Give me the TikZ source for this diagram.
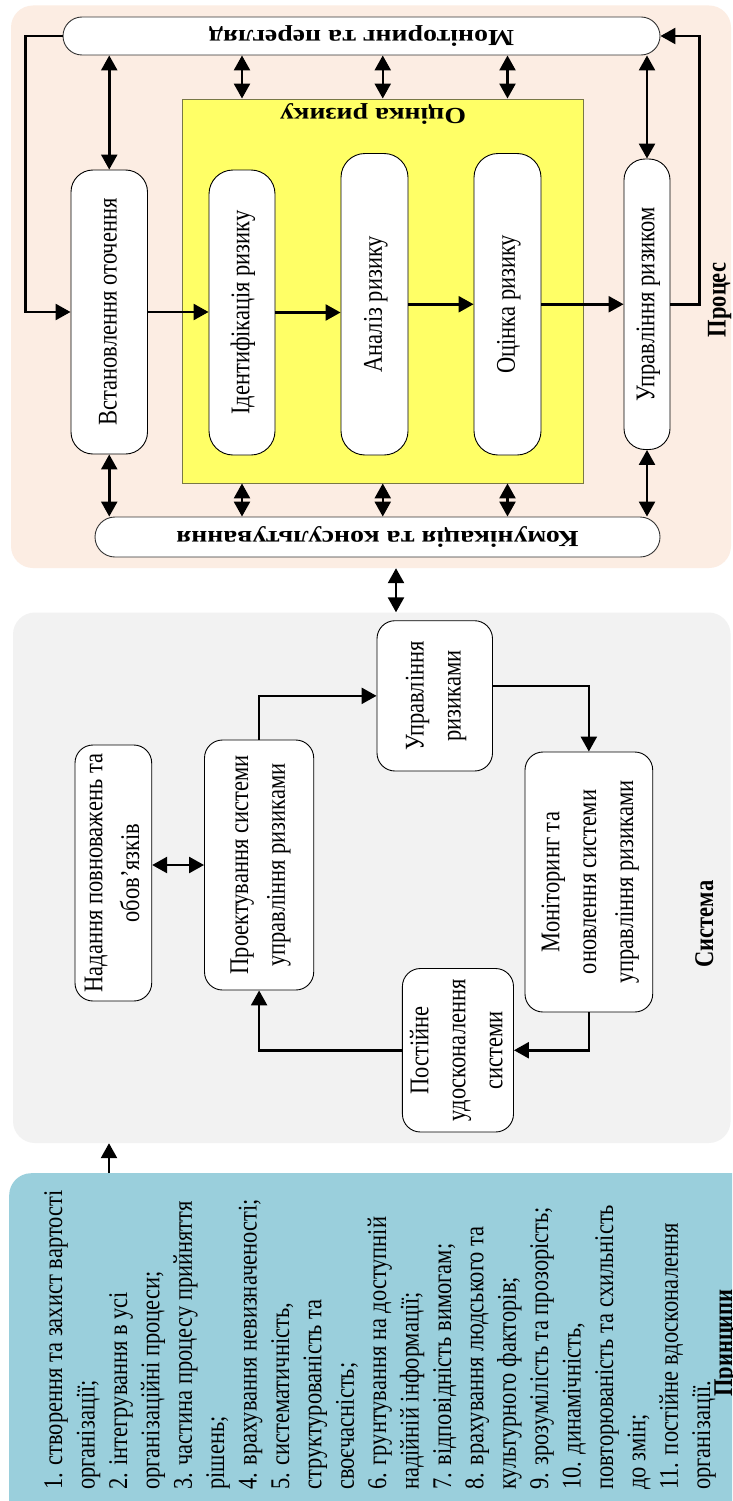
\documentclass[tikz,border=0pt]{standalone}
\usepackage{fontspec}
\setmainfont{Liberation Serif}
\usepackage{graphicx}
\usetikzlibrary{arrows.meta,calc}
\definecolor{peach}{RGB}{252,237,227}
\definecolor{sysgray}{RGB}{242,242,242}
\definecolor{yel}{RGB}{255,255,102}
\definecolor{prblue}{RGB}{154,207,220}
\definecolor{yelborder}{RGB}{120,120,70}
\newcommand{\vt}[1]{\scalebox{1.2}[1]{\rotatebox{90}{\begin{tabular}{@{}c@{}}#1\end{tabular}}}}
\newcommand{\ud}[1]{\scalebox{1.21}[1]{\rotatebox{180}{#1}}}
\tikzset{
  panel/.style={fill=#1, draw=none, rounded corners=22pt, inner sep=0pt},
  box/.style={draw=black, line width=0.9pt, fill=white, inner sep=0pt,
    font=\fontsize{22.5}{30.8}\selectfont},
  pill/.style={draw=black!80, line width=0.9pt, fill=white, inner sep=0pt,
    font=\bfseries\fontsize{23}{27}\selectfont},
  blabel/.style={font=\bfseries\fontsize{22.5}{27}\selectfont, inner sep=0pt},
  arr/.style={line width=2.5pt, -{Triangle[length=15pt,width=16pt]}},
  dbl/.style={line width=2.5pt, {Triangle[length=15pt,width=16pt]}-{Triangle[length=15pt,width=16pt]}},
}
\begin{document}
\begin{tikzpicture}[x=1pt,y=-1pt]
\useasboundingbox (0,0) rectangle (732,1501);
\clip (0,0) rectangle (732,1501);
\fill[white] (0,0) rectangle (732,1501);

% ---------------- Process ----------------
\node[panel=peach, minimum width=720pt, minimum height=562.5pt] (proc) at (371,286.75) {};
\node[draw=yelborder, line width=0.9pt, fill=yel, inner sep=0pt, minimum width=400.5pt, minimum height=384pt] (yb) at (382.75,291) {};
\node[blabel, font=\bfseries\fontsize{23}{27}\selectfont] (ybl) at (373,114) {\ud{Оцінка ризику}};

\node[pill, rounded corners=19pt, minimum width=597pt, minimum height=38pt] (mon) at (361.5,36) {\ud{Моніторинг та перегляд}};
\node[pill, rounded corners=20pt, minimum width=565pt, minimum height=40pt] (com) at (377.5,537) {\ud{Комунікація та консультування}};

\node[box, rounded corners=22pt, minimum width=76.5pt, minimum height=284pt] (vst) at (109.25,312) {\vt{Встановлення оточення}};
\node[box, rounded corners=24pt, minimum width=66pt, minimum height=285pt] (ide) at (242,312.5) {\vt{Ідентифікація ризику}};
\node[box, rounded corners=24pt, minimum width=67pt, minimum height=301.5pt] (ana) at (374.5,304.25) {\vt{Аналіз ризику}};
\node[box, rounded corners=24pt, minimum width=67pt, minimum height=301.5pt] (oci) at (507.5,304.25) {\vt{Оцінка ризику}};
\node[box, rounded corners=21pt, minimum width=46pt, minimum height=290.5pt] (upr) at (647,304.25) {\vt{Управління ризиком}};

\node[blabel, xscale=1.2, rotate=90, anchor=base] (proclab) at (725.5,300) {Процес};

\draw[arr] (vst.east) -- (vst.east -| ide.west);
\draw[arr] (ide.east) -- (ide.east -| ana.west);
\draw[arr] (ana.east) -- (oci.west);
\draw[arr] (oci.east) -- (upr.west);
\draw[arr] (mon.west) -- ++(-37.3,0) |- (vst.west);
\draw[arr] (upr.east) -- ++(29,0) |- (mon.east);

\draw[dbl] (vst.north |- mon.south) -- (vst.north);
\draw[dbl] (ide |- mon.south) -- (ide |- yb.north);
\draw[dbl] (yb.north |- mon.south) -- (yb.north);
\draw[dbl] (oci |- mon.south) -- (oci |- yb.north);
\draw[dbl] (upr.north |- mon.south) -- (upr.north);

\draw[dbl] (vst.south) -- (vst.south |- com.north);
\draw[dbl] (ide |- yb.south) -- (ide |- com.north);
\draw[dbl] (yb.south) -- (yb.south |- com.north);
\draw[dbl] (oci |- yb.south) -- (oci |- com.north);
\draw[dbl] (upr.south) -- (upr.south |- com.north);

% ---------------- System ----------------
\node[panel=sysgray, minimum width=717.6pt, minimum height=530.5pt] (sys) at (371.8,877.75) {};
\draw[dbl] ([xshift=25pt]proc.south) -- ([xshift=25pt]proc.south |- sys.north);

\node[box, rounded corners=18pt, minimum width=115.5pt, minimum height=150.3pt] (ur) at (434.75,695.85) {\vt{Управління\\ризиками}};
\node[box, rounded corners=18pt, minimum width=76.7pt, minimum height=256pt] (nad) at (113.35,873) {\vt{Надання повноважень та\\обов’язків}};
\node[box, rounded corners=18pt, minimum width=109.2pt, minimum height=250pt] (pro) at (259.1,865) {\vt{Проектування системи\\управління ризиками}};
\node[box, rounded corners=18pt, minimum width=127.7pt, minimum height=260pt] (mon2) at (588.85,882) {\vt{Моніторинг та\\оновлення системи\\управління ризиками}};
\node[box, rounded corners=18pt, minimum width=111.1pt, minimum height=163.5pt] (pos) at (457.95,1050.25) {\vt{Постійне\\удосконалення\\системи}};

\node[blabel, xscale=1.2, rotate=90, anchor=base] (syslab) at (713,924) {Система};

\draw[arr] (pro.north) |- (ur.west);
\draw[arr] ([yshift=10pt]ur.east) -| (mon2.north);
\draw[arr] (mon2.south) |- (pos.east);
\draw[arr] (pos.west) -| (pro.south);
\draw[dbl] (pro.west -| nad.east) -- (pro.west);

% ---------------- Principles ----------------
\node[panel=prblue, anchor=north west, minimum width=780pt, minimum height=400pt] (prin) at (9,1173) {};
\draw[arr] ([xshift=100pt]prin.north west) -- ([xshift=100pt]prin.north west |- sys.south);

\node[anchor=north west, xscale=1.2, rotate=90, inner sep=0pt, font=\fontsize{22.5}{27}\selectfont] (ptxt) at (39.3,1490) {\begin{tabular}{@{}l@{}}
1. створення та захист вартості\\
організації;\\
2. інтегрування в усі\\
організаційні процеси;\\
3. частина процесу прийняття\\
рішень;\\
4. врахування невизначеності;\\
5. систематичність,\\
структурованість та\\
своєчасність;\\
6. грунтування на доступній\\
надійній інформації;\\
7. відповідність вимогам;\\
8. врахування людського та\\
культурного факторів;\\
9. зрозумілість та прозорість;\\
10. динамічність,\\
повторюваність та схильність\\
до змін;\\
11. постійне вдосконалення\\
організації.
\end{tabular}};
\node[blabel, xscale=1.2, rotate=90, anchor=base] (prinlab) at (732,1343) {Принципи};
\end{tikzpicture}
\end{document}
